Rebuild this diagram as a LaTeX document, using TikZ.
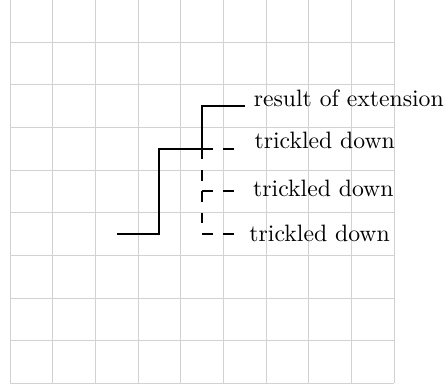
\documentclass[tikz,border=0pt]{standalone}
\begin{document}
\begin{tikzpicture}[x=18pt,y=18pt,
  gridline/.style={draw=gray!35, line width=0.4pt},
  solidline/.style={draw=black, thick},
  dashline/.style={draw=black, thick, dash pattern=on 4.5pt off 4.5pt},
  lbl/.style={anchor=base west, inner sep=0pt, font=\normalsize}]
\useasboundingbox (-0.234,-0.087) rectangle (10.218,8.984);
\foreach \i in {0,...,9} {
  \draw[gridline] (\i,0) -- (\i,9);
  \draw[gridline] (0,\i) -- (9,\i);
}
% corner coordinates
\coordinate (a) at (2.5,3.5);
\coordinate (b) at (3.5,3.5);
\coordinate (c) at (3.5,5.5);
\coordinate (d) at (4.5,5.5);
\coordinate (e) at (4.5,6.5);
\coordinate (f) at (5.5,6.5);
\coordinate (g) at (4.5,4.5);
\coordinate (h) at (4.5,3.5);
\coordinate (d2) at (5.25,5.5);
\coordinate (g2) at (5.25,4.5);
\coordinate (h2) at (5.25,3.5);
% dashed paths
\draw[dashline] (d) -- (d2);
\draw[dashline] (d) -- (h) -- (h2);
\draw[dashline] (g) -- (g2);
% solid step
\draw[solidline] (a) -- (b) -- (c) -- (d) -- (e) -- (f);
% labels
\node[lbl] (l1) at (5.702,6.492) {result of extension};
\node[lbl] (l2) at (5.72,5.507) {trickled down};
\node[lbl] (l3) at (5.688,4.37) {trickled down};
\node[lbl] (l4) at (5.60,3.328) {trickled down};
\end{tikzpicture}
\end{document}
